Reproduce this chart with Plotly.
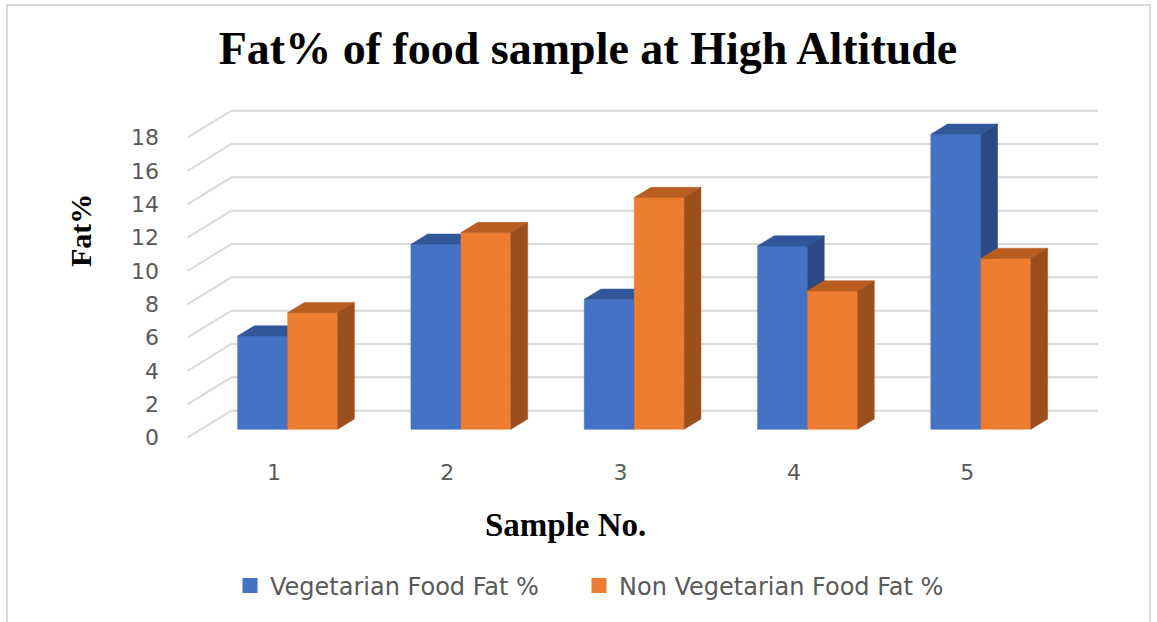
import plotly.graph_objects as go

# ---- data -------------------------------------------------------------
samples = [1, 2, 3, 4, 5]
veg_fat = [5.6, 11.1, 7.8, 11.0, 17.7]
nonveg_fat = [7.0, 11.8, 13.9, 8.3, 10.25]
y_ticks = [0, 2, 4, 6, 8, 10, 12, 14, 16, 18]
series_names = ["Vegetarian Food Fat %", "Non Vegetarian Food Fat %"]

# ---- styling ----------------------------------------------------------
FRONT = ["#4472C4", "#ED7D31"]
TOP = ["#31579A", "#BA5D20"]
SIDE = ["#2B4A82", "#9A4F1D"]
GRID = "#D9D9D9"
TEXT_GRAY = "#595959"

W, H = 1157, 622
L, R, T, B = 170, 1117, 100, 450      # plot area box (px)
PX_CAT = 173.3                         # px per category step
PX_VAL = 16.67                         # px per value unit
X1_PX = 274.0                          # category 1 on the front plane (px)
Y0_PX = 437.7                          # value 0 on the front plane (px)

x_range = [1 - (X1_PX - L) / PX_CAT, 1 + (R - X1_PX) / PX_CAT]
y_range = [-(B - Y0_PX) / PX_VAL, (Y0_PX - T) / PX_VAL]

# oblique projection of the depth axis (full depth = 1)
DEPTH_DX = 44 / PX_CAT
DEPTH_DY = 27 / PX_VAL
HALF_W = 50 / PX_CAT                   # width of one column
D_FRONT, D_BACK = 0.31, 0.69           # column depth span
WALL_X0, WALL_X1 = 0.5, len(samples) + 0.5

LEGEND_X_PX = [244, 593]               # left edge of each legend swatch (px)
LEGEND_PAD = 14                        # swatch offset inside a legend box (px)


def proj(x, v, d):
    return x + d * DEPTH_DX, v + d * DEPTH_DY


def poly(points):
    xs, ys = [], []
    for p in points:
        px, py = proj(*p)
        xs.append(px)
        ys.append(py)
    xs.append(xs[0])
    ys.append(ys[0])
    return xs, ys


fig = go.Figure()

# back wall and side wall gridlines
gx, gy = [], []
for v in y_ticks:
    for p in [(WALL_X0, v, 0), (WALL_X0, v, 1), (WALL_X1, v, 1)]:
        px, py = proj(*p)
        gx.append(px)
        gy.append(py)
    gx.append(None)
    gy.append(None)
fig.add_trace(go.Scatter(x=gx, y=gy, mode="lines",
                         line=dict(color=GRID, width=2),
                         hoverinfo="skip", showlegend=False))

# 3-D columns: front, top and right-side faces
for s, values in enumerate([veg_fat, nonveg_fat]):
    faces = {"front": ([], []), "top": ([], []), "side": ([], [])}
    for k, v in zip(samples, values):
        x0 = k - HALF_W + s * HALF_W
        x1 = x0 + HALF_W
        shapes = {
            "front": [(x0, 0, D_FRONT), (x1, 0, D_FRONT), (x1, v, D_FRONT), (x0, v, D_FRONT)],
            "top": [(x0, v, D_FRONT), (x1, v, D_FRONT), (x1, v, D_BACK), (x0, v, D_BACK)],
            "side": [(x1, 0, D_FRONT), (x1, 0, D_BACK), (x1, v, D_BACK), (x1, v, D_FRONT)],
        }
        for name, pts in shapes.items():
            xs, ys = poly(pts)
            faces[name][0].extend(xs + [None])
            faces[name][1].extend(ys + [None])
    for name, color in [("front", FRONT[s]), ("top", TOP[s]), ("side", SIDE[s])]:
        fig.add_trace(go.Scatter(
            x=faces[name][0], y=faces[name][1], mode="lines",
            fill="toself", fillcolor=color,
            line=dict(color=color, width=0.5),
            hoverinfo="skip", showlegend=False))

# legend entries, one legend box per series
legend_ids = ["legend", "legend2"]
for s, name in enumerate(series_names):
    fig.add_trace(go.Scatter(
        x=[None], y=[None], mode="markers", name=name, legend=legend_ids[s],
        marker=dict(symbol="square", size=15, color=FRONT[s])))


def paper_x(px):
    return (px - L) / (R - L)


def paper_y(py):
    return (B - py) / (B - T)


def legend_box(s):
    return dict(orientation="h", xref="container", yref="container",
                x=(LEGEND_X_PX[s] - LEGEND_PAD) / W, xanchor="left",
                y=1 - 586 / H, yanchor="middle",
                font=dict(family="DejaVu Sans", size=24, color=TEXT_GRAY),
                itemsizing="trace", bgcolor="rgba(0,0,0,0)")


fig.update_layout(
    width=W, height=H,
    margin=dict(l=L, r=W - R, t=T, b=H - B),
    paper_bgcolor="white", plot_bgcolor="white",
    title=dict(text="<b>Fat% of food sample at High Altitude</b>",
               x=588 / W, xref="container", xanchor="center",
               y=1 - 48 / H, yref="container", yanchor="middle",
               font=dict(family="Liberation Serif", size=46, color="black")),
    xaxis=dict(range=x_range, showgrid=False, zeroline=False, showline=False,
               tickvals=samples, ticktext=[str(k) for k in samples],
               ticks="", ticklabelstandoff=7,
               tickfont=dict(family="DejaVu Sans", size=22, color=TEXT_GRAY),
               fixedrange=True),
    yaxis=dict(range=y_range, showgrid=False, zeroline=False, showline=False,
               tickvals=y_ticks, ticktext=[str(v) for v in y_ticks],
               ticks="", ticklabelstandoff=10,
               tickfont=dict(family="DejaVu Sans", size=22, color=TEXT_GRAY),
               fixedrange=True),
    legend=legend_box(0),
    legend2=legend_box(1),
    annotations=[
        dict(text="<b>Sample No.</b>", xref="paper", yref="paper",
             x=paper_x(565), y=paper_y(525), xanchor="center", yanchor="middle",
             showarrow=False,
             font=dict(family="Liberation Serif", size=33, color="black")),
        dict(text="<b>Fat%</b>", xref="paper", yref="paper",
             x=paper_x(80), y=paper_y(231), xanchor="center", yanchor="middle",
             textangle=-90, showarrow=False,
             font=dict(family="Liberation Serif", size=30, color="black")),
    ],
    shapes=[dict(type="rect", xref="paper", yref="paper",
                 x0=paper_x(7), x1=paper_x(1150), y0=paper_y(640), y1=paper_y(5),
                 line=dict(color=GRID, width=2), fillcolor="rgba(0,0,0,0)",
                 layer="below")],
)

fig.write_html("out.html")
